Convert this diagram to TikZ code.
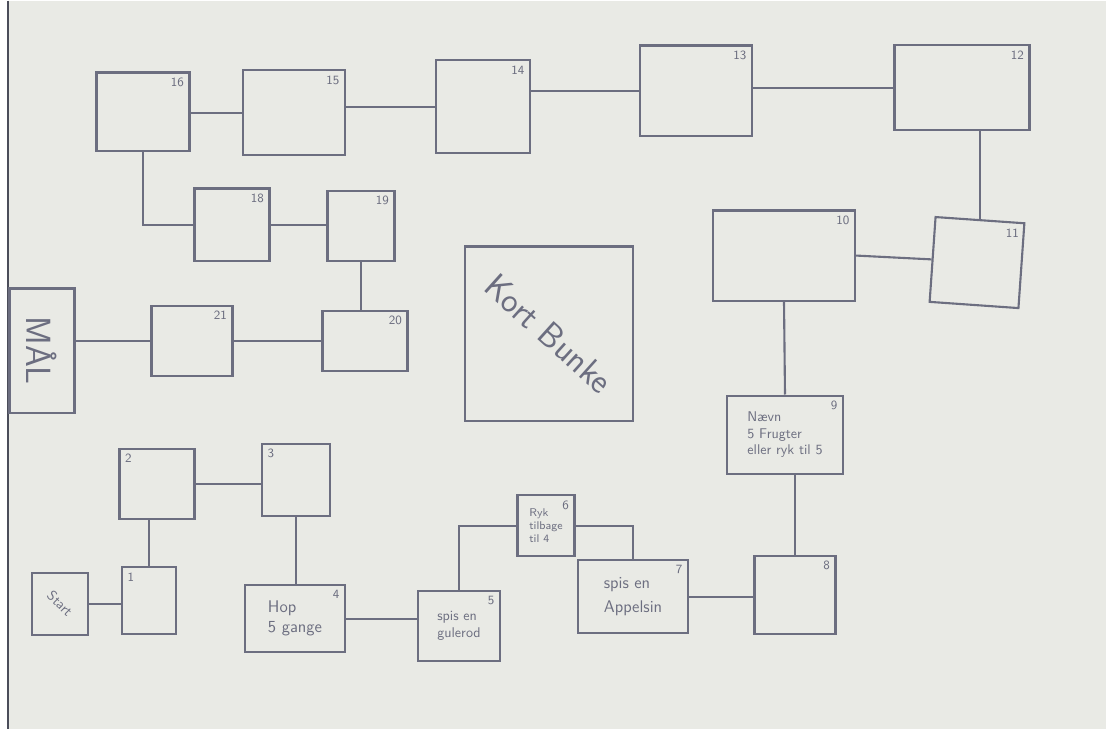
\documentclass[tikz,border=0pt]{standalone}
\usepackage{tikz}
\usetikzlibrary{calc}
\usepackage{xcolor}
\usetikzlibrary{arrows.meta, positioning}

\definecolor{pen}{RGB}{108,110,128}
\definecolor{paper}{RGB}{233,234,229}

\begin{document}
\begin{tikzpicture}[x=0.025cm, y=-0.025cm, font=\sffamily, line width=1.5pt,
  every node/.style={draw=pen, text=pen, rectangle, inner sep=2pt, align=left},
  nr/.style={draw=none, anchor=north east, inner sep=4pt, font=\sffamily\small},
  nrl/.style={draw=none, anchor=north west, inner sep=4pt, font=\sffamily\small}]
\fill[paper] (0,0) rectangle (1106,728);
\fill[white] (0,0) rectangle (8,728);
\draw[pen!70!black, line width=0.8pt] (8,0) -- (8,728);

% start and first fields
\node[minimum width=1.4cm, minimum height=1.55cm] (start) at (60,603) {};
\node[draw=none, font=\sffamily, rotate=-45] (starttxt) at (start) {Start};
\node[minimum width=1.35cm, minimum height=1.675cm, label={[nrl]north west:1}] (1) at (149,600) {};
\node[minimum width=1.875cm, minimum height=1.75cm, label={[nrl]north west:2}] (2) at (157,483) {};
\node[minimum width=1.7cm, minimum height=1.8cm, label={[nrl]north west:3}] (3) at (296,479) {};
\node[minimum width=2.5cm, minimum height=1.675cm, font=\sffamily\large, label={[nr]north east:4}] (4) at (295,618) {Hop\\5 gange};
\node[minimum width=2.05cm, minimum height=1.75cm, label={[nr]north east:5}] (5) at (459,625) {spis en\\gulerod};
\node[minimum width=1.425cm, minimum height=1.525cm, font=\sffamily\footnotesize, label={[nr]north east:6}] (6) at (546,525) {Ryk\\tilbage\\til 4};
\node[minimum width=2.75cm, minimum height=1.825cm, font=\sffamily\large, label={[nr]north east:7}] (7) at (633,596) {spis en\\[1mm]Appelsin};
\node[minimum width=2.025cm, minimum height=1.95cm, label={[nr]north east:8}] (8) at (795,594) {};
\node[minimum width=2.9cm, minimum height=1.95cm, label={[nr]north east:9}] (9) at (785,434) {N\ae vn\\5 Frugter\\eller ryk til 5};
\node[minimum width=3.55cm, minimum height=2.25cm, label={[nr]north east:10}] (10) at (784,255) {};
\node[minimum width=2.225cm, minimum height=2.125cm, rotate=-4, label={[nr]north east:11}] (11) at (977,262) {};
\node[minimum width=3.375cm, minimum height=2.125cm, label={[nr]north east:12}] (12) at (962,87) {};
\node[minimum width=2.8cm, minimum height=2.25cm, label={[nr]north east:13}] (13) at (696,90) {};
\node[minimum width=2.35cm, minimum height=2.325cm, label={[nr]north east:14}] (14) at (483,106) {};
\node[minimum width=2.55cm, minimum height=2.125cm, label={[nr]north east:15}] (15) at (294,112) {};
\node[minimum width=2.325cm, minimum height=1.95cm, label={[nr]north east:16}] (16) at (143,111) {};
\node[minimum width=1.875cm, minimum height=1.8cm, label={[nr]north east:18}] (18) at (232,224) {};
\node[minimum width=1.675cm, minimum height=1.75cm, label={[nr]north east:19}] (19) at (361,225) {};
\node[minimum width=2.125cm, minimum height=1.5cm, label={[nr]north east:20}] (20) at (365,340) {};
\node[minimum width=2.025cm, minimum height=1.75cm, label={[nr]north east:21}] (21) at (192,340) {};
\node[minimum width=1.625cm, minimum height=3.1cm] (goal) at (42,350) {};
\node[draw=none, font=\sffamily\Huge, rotate=-90] (goaltxt) at (goal) {M\AA L};

% card pile
\node[minimum width=4.2cm, minimum height=4.35cm] (deck) at (549,333) {};
\node[draw=none, font=\sffamily\Huge, rotate=-42] (decktxt) at (deck) {Kort Bunke};

% path
\draw[pen] (start.east) -- (start.east -| 1.west);
\draw[pen] (1.north) -- (1.north |- 2.south);
\draw[pen] (2.east) -- (2.east -| 3.west);
\draw[pen] (3.south) -- (3.south |- 4.north);
\draw[pen] (4.east) -- (4.east -| 5.west);
\draw[pen] (5.north) |- (6.west);
\draw[pen] (6.east) -| (7.north);
\draw[pen] (7.east) -- (7.east -| 8.west);
\draw[pen] (8.north) -- (8.north |- 9.south);
\draw[pen] (9.north) -- (10.south);
\draw[pen] (10.east) -- (11.west);
\draw[pen] (11.north) -- (11.north |- 12.south);
\draw[pen] (12.west) -- (12.west -| 13.east);
\draw[pen] (13.west) -- (13.west -| 14.east);
\draw[pen] (14.west) -- (14.west -| 15.east);
\draw[pen] (15.west) -- (15.west -| 16.east);
\draw[pen] (16.south) |- (18.west);
\draw[pen] (18.east) -- (18.east -| 19.west);
\draw[pen] (19.south) -- (19.south |- 20.north);
\draw[pen] (20.west) -- (20.west -| 21.east);
\draw[pen] (21.west) -- (21.west -| goal.east);

\end{tikzpicture}
\end{document}
